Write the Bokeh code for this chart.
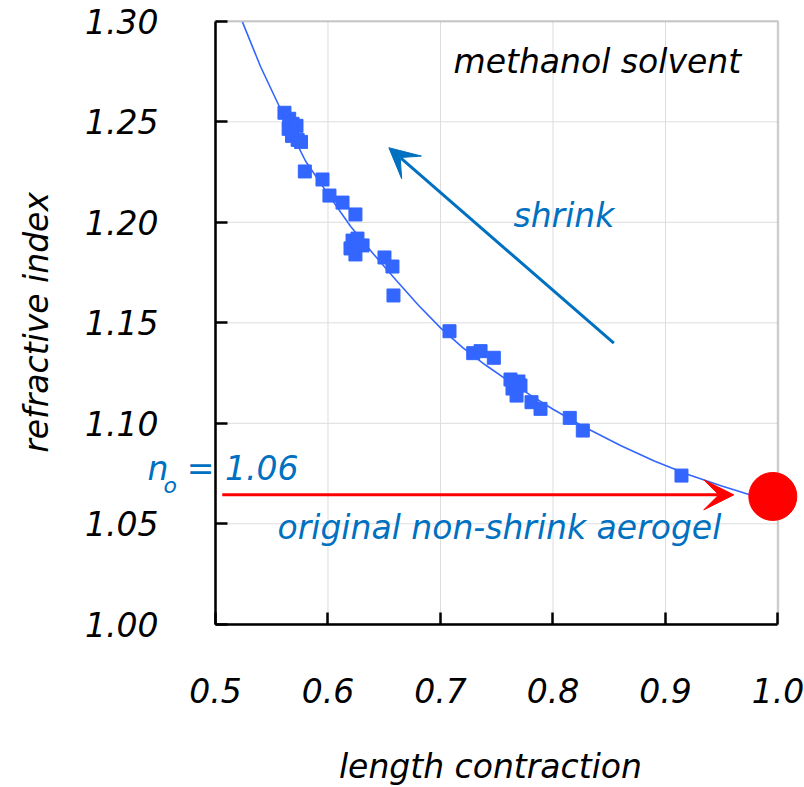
import math
from bokeh.plotting import figure
from bokeh.models import Label, Arrow, VeeHead, BoxAnnotation, FixedTicker
from bokeh.embed import file_html
from bokeh.resources import INLINE

# measured points (length contraction, refractive index)
x_meas = [0.5613, 0.5655, 0.5685, 0.5650, 0.5720, 0.5680, 0.5730, 0.5760,
          0.5794, 0.5951, 0.6013, 0.6129, 0.6244,
          0.6218, 0.6200, 0.6244, 0.6307, 0.6262,
          0.6502, 0.6573, 0.6582,
          0.7080, 0.7291, 0.7356, 0.7474,
          0.7622, 0.7693, 0.7711, 0.7640, 0.7676,
          0.7809, 0.7889, 0.8149, 0.8265, 0.9142]
y_meas = [1.2545, 1.2515, 1.2490, 1.2465, 1.2480, 1.2430, 1.2410, 1.2400,
          1.2253, 1.2213, 1.2133, 1.2098, 1.2039,
          1.1909, 1.1870, 1.1840, 1.1885, 1.1919,
          1.1825, 1.1780, 1.1636,
          1.1458, 1.1349, 1.1359, 1.1326,
          1.1218, 1.1208, 1.1188, 1.1173, 1.1138,
          1.1105, 1.1072, 1.1027, 1.0964, 1.0740]

# fitted curve
x_fit = [0.524, 0.540, 0.556, 0.568, 0.580, 0.600, 0.620, 0.640, 0.660, 0.680,
         0.700, 0.720, 0.740, 0.760, 0.780, 0.800, 0.830, 0.860, 0.890, 0.920,
         0.950, 0.975, 0.995]
y_fit = [1.2996, 1.2775, 1.2585, 1.2440, 1.2305, 1.2140, 1.1980, 1.1845, 1.1715,
         1.1590, 1.1475, 1.1375, 1.1290, 1.1212, 1.1140, 1.1070, 1.0975, 1.0890,
         1.0812, 1.0745, 1.0688, 1.0645, 1.0620]

# original non-shrink aerogel
x_orig = [0.9954]
y_orig = [1.0636]
n_o = 1.0644

x_ticks = [0.5, 0.6, 0.7, 0.8, 0.9, 1.0]
y_ticks = [1.00, 1.05, 1.10, 1.15, 1.20, 1.25, 1.30]
x_lo, x_hi = 0.5, 1.0
y_lo, y_hi = 1.0, 1.30

FONT = "DejaVu Sans"
FS = "33px"
BLUE_TXT = "#0070C0"
MARK = "#3366FF"

p = figure(width=804, height=787, output_backend="svg", toolbar_location=None,
           x_range=(0.30889, 1.02356), y_range=(0.91881, 1.31035),
           min_border=0, min_border_left=0, min_border_right=0,
           min_border_top=0, min_border_bottom=0)
p.outline_line_color = None
p.background_fill_color = "white"
p.border_fill_color = "white"
p.title.visible = False
p.xgrid.visible = False
p.ygrid.visible = False

# axes drawn at fixed locations inside the frame
for ax in (p.xaxis[0], p.yaxis[0]):
    ax.axis_line_color = "black"
    ax.axis_line_width = 2.5
    ax.major_tick_line_color = "black"
    ax.major_tick_line_width = 2.5
    ax.major_tick_in = 12
    ax.major_tick_out = 0
    ax.minor_tick_line_color = None
    ax.major_label_text_font = FONT
    ax.major_label_text_font_style = "italic"
    ax.major_label_text_font_size = FS
    ax.major_label_text_color = "black"

p.xaxis.ticker = FixedTicker(ticks=x_ticks)
p.yaxis.ticker = FixedTicker(ticks=y_ticks)
p.xaxis.bounds = (x_lo, x_hi)
p.yaxis.bounds = (y_lo, y_hi)
p.xaxis.fixed_location = y_lo
p.yaxis.fixed_location = x_lo
p.xaxis.major_label_overrides = {t: f"{t:.1f}" for t in x_ticks}
p.yaxis.major_label_overrides = {t: f"{t:.2f}" for t in y_ticks}
p.xaxis.major_label_standoff = 54
p.yaxis.major_label_standoff = 57

# grid
p.segment(x0=[x_lo] * len(y_ticks), x1=[x_hi] * len(y_ticks), y0=y_ticks, y1=y_ticks,
          line_color="#dddddd", line_width=1, level="underlay")
p.segment(x0=x_ticks, x1=x_ticks, y0=[y_lo] * len(x_ticks), y1=[y_hi] * len(x_ticks),
          line_color="#dddddd", line_width=1, level="underlay")

# top and right frame border
p.add_layout(BoxAnnotation(left=x_lo, right=x_hi, bottom=y_lo, top=y_hi,
                           fill_alpha=0, line_color="#808080", line_width=2.5,
                           level="underlay"))

# curve and points
p.line(x_fit, y_fit, line_color=MARK, line_width=1.6)
p.scatter(x_meas, y_meas, marker="square", size=13, fill_color=MARK,
          line_color=MARK)

# red arrow
p.add_layout(Arrow(end=VeeHead(size=30, fill_color="red", line_color="red", line_width=1),
                   x_start=0.506, y_start=n_o, x_end=0.9607, y_end=n_o,
                   line_color="red", line_width=3))
p.scatter(x_orig, y_orig, marker="circle", size=48, fill_color="red", line_color="red")

# shrink arrow
p.add_layout(Arrow(end=VeeHead(size=30, fill_color=BLUE_TXT, line_color=BLUE_TXT, line_width=1),
                   x_start=0.8541, y_start=1.1399, x_end=0.6541, y_end=1.2371,
                   line_color=BLUE_TXT, line_width=3))

def lab(x, y, text, color, size=FS, **kw):
    p.add_layout(Label(x=x, y=y, text=text, text_color=color, text_font=FONT,
                       text_font_style="italic", text_font_size=size, **kw))

lab(0.7116, 1.2705, "methanol solvent", "black")
lab(0.7649, 1.1935, "shrink", BLUE_TXT)
lab(0.5551, 1.0385, "original non-shrink aerogel", BLUE_TXT)
lab(0.4396, 1.0678, "n", BLUE_TXT)
lab(0.4538, 1.0629, "o", BLUE_TXT, "22px")
lab(0.4745, 1.0678, "= 1.06", BLUE_TXT)

# axis titles
lab(0.7444, 0.9198, "length contraction", "black", text_align="center")
lab(0.3409, 1.1502, "refractive index", "black", text_align="center",
    text_baseline="middle", angle=math.pi / 2)

open("out.html", "w").write(file_html(p, INLINE))
